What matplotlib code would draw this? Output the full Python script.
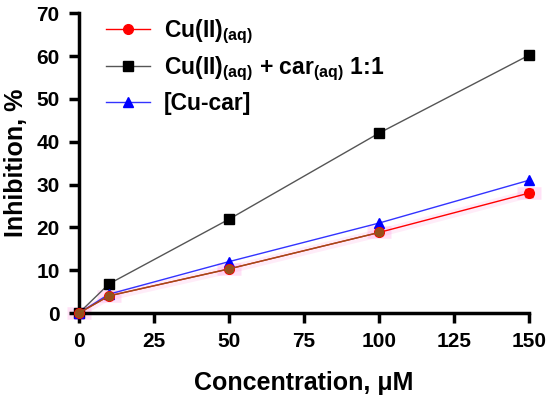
import numpy as np
import matplotlib
matplotlib.use("Agg")
import matplotlib.pyplot as plt
from matplotlib.lines import Line2D

plt.rcParams['font.family'] = ['Liberation Sans', 'DejaVu Sans']
plt.rcParams['font.weight'] = 'bold'
plt.rcParams['mathtext.fontset'] = 'custom'
plt.rcParams['mathtext.rm'] = 'Liberation Sans:bold'
plt.rcParams['mathtext.bf'] = 'Liberation Sans:bold'
plt.rcParams['mathtext.it'] = 'Liberation Sans:bold'
plt.rcParams['mathtext.default'] = 'bf'

conc = [0, 10, 50, 100, 150]
cu_aq = [0, 4.0, 10.3, 18.8, 28.0]
cu_aq_err = [0.3, 0.5, 0.6, 0.6, 1.0]
cu_car_mix = [0, 6.8, 21.9, 42.0, 60.2]
cu_car = [0, 4.4, 12.0, 21.0, 31.0]

fig = plt.figure(figsize=(5.5, 3.99), dpi=100)
ax = fig.add_axes([0.1436, 0.2155, 0.8184, 0.7515])

# faint pink halo around the Cu(II) points and line
ax.fill_between(conc, np.array(cu_aq) - 1.0, np.array(cu_aq) + 1.0,
                color='#ff66cc', alpha=0.12, lw=0, zorder=1)
ax.errorbar(conc, cu_aq, xerr=4, fmt='none', ecolor='#ff88dd', elinewidth=9,
            alpha=0.25, capsize=0, zorder=1, clip_on=False)

ax.errorbar(conc, cu_aq, yerr=cu_aq_err, color='red', marker='o', ms=7,
            lw=1, capsize=3, clip_on=False, zorder=4)
# brownish overlay seen on the first points
ax.plot(conc[:4], cu_aq[:4], color='#8b5a1e', marker='o', ms=6, lw=1,
        alpha=0.85, clip_on=False, zorder=5)
h2, = ax.plot(conc, cu_car_mix, color='#555555', marker='s', ms=7, mfc='black',
              mec='black', lw=1, clip_on=False, zorder=3)
h3, = ax.plot(conc, cu_car, color='#3333ff', marker='^', ms=7, mfc='blue',
              mec='blue', lw=1, clip_on=False, zorder=3)
h1 = Line2D([], [], color='red', marker='o', ms=7, lw=1)

ax.set_xlim(0, 150)
ax.set_ylim(0, 70)
ax.set_xticks([0, 25, 50, 75, 100, 125, 150])
ax.set_yticks(range(0, 71, 10))
ax.set_xlabel('Concentration, μM', fontsize=18, fontweight='bold', labelpad=14)
ax.set_ylabel('Inhibition, %', fontsize=18, fontweight='bold', labelpad=6)

for s in ['top', 'right']:
    ax.spines[s].set_visible(False)
for s in ['left', 'bottom']:
    ax.spines[s].set_linewidth(2.5)
ax.tick_params(width=2.5, length=7, labelsize=15, pad=7)

ax.legend([h1, h2, h3],
          [r'Cu(II)$_{(aq)}$', r'Cu(II)$_{(aq)}$ + car$_{(aq)}$ 1:1', '[Cu-car]'],
          loc='upper left', bbox_to_anchor=(0.015, 1.055),
          frameon=False, fontsize=16.5, handlelength=1.9,
          labelspacing=0.4, handletextpad=0.6)

fig.savefig('out.png', dpi=100)
